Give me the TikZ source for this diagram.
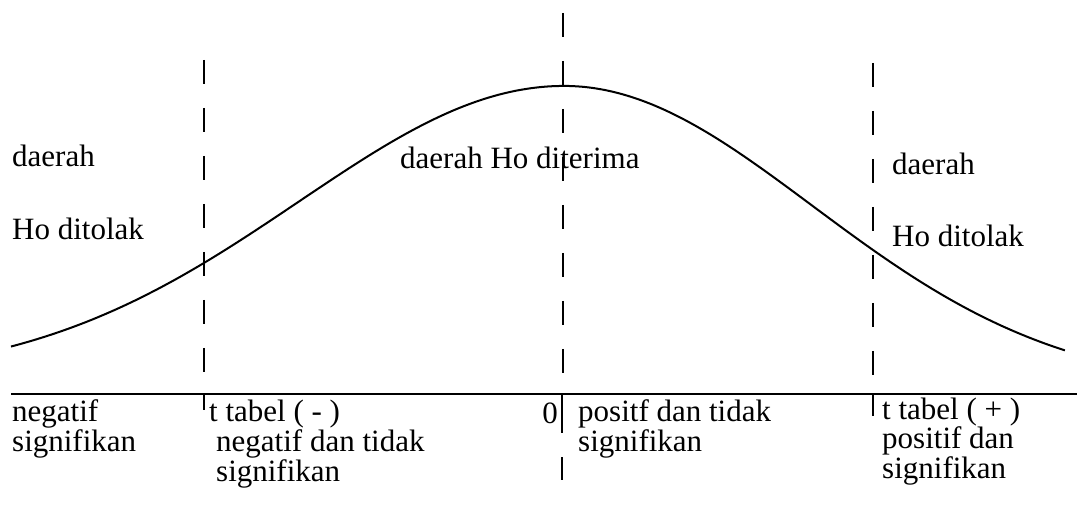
\documentclass[tikz,border=0pt]{standalone}
\usepackage{fontspec}
\setmainfont{Liberation Serif}
\begin{document}
\begin{tikzpicture}[x=1pt,y=-1pt,
  lbl/.style={anchor=base west,inner sep=0pt,font=\fontsize{31}{27.5}\selectfont,align=left},
  lblr/.style={anchor=base east,inner sep=0pt,font=\fontsize{31}{27.5}\selectfont},
  curve/.style={line width=2pt},
  dline/.style={line width=1.6pt,dash pattern=on 24pt off 24pt},
  tick/.style={line width=1.6pt},
  axis/.style={line width=2.2pt}]
\useasboundingbox (0,0) rectangle (1079,510);
% texts (multi-line nodes are placed by the baseline of their last line)
\node[lbl] (dL) at (12,167) {daerah};
\node[lbl] (hL) at (12,240) {Ho ditolak};
\node[lbl] (dC) at (400,169) {daerah Ho diterima};
\node[lbl] (dR) at (892,175) {daerah};
\node[lbl] (hR) at (892,247) {Ho ditolak};
\node[lbl] (nL) at (12,451) {negatif\\signifikan};
\node[lbl] (tm) at (209,421) {t tabel ( - )};
\node[lbl] (nm) at (216,481) {negatif dan tidak\\signifikan};
\node[lblr] (zero) at (558,424) {0};
\node[lbl] (pc) at (578,451) {positf dan tidak\\signifikan};
\node[lbl] (tp) at (882,478) {t tabel ( + )\\positif dan\\signifikan};
% coordinates
\coordinate (Lt) at (204,60);  \coordinate (Lb) at (204,373);
\coordinate (Ct) at (563,13);  \coordinate (Cb) at (563,373);
\coordinate (Rt) at (873,63);  \coordinate (Rb) at (873,376);
\coordinate (A1) at (11,394);  \coordinate (A2) at (1077,394);
\coordinate (Lk1) at (204,395); \coordinate (Lk2) at (204,410);
\coordinate (Ck1) at (562,395); \coordinate (Ck2) at (562,433);
\coordinate (Ck3) at (562,457); \coordinate (Ck4) at (562,480);
\coordinate (Rk1) at (873,395); \coordinate (Rk2) at (873,416);
% curve
\draw[curve] plot[domain=-5.53:0,samples=120,smooth] ({564+100*\x},{380-294*exp(-((\x)*(\x))/14.0717)})
  -- plot[domain=0.05:5.01,samples=120,smooth] ({564+100*\x},{390-304*exp(-((\x)*(\x))/12.3138)});
% dashed lines
\draw[dline] (Lt) -- (Lb);
\draw[dline] (Ct) -- (Cb);
\draw[dline] (Rt) -- (Rb);
% axis and ticks
\draw[axis] (A1) -- (A2);
\draw[tick] (Lk1) -- (Lk2);
\draw[tick] (Ck1) -- (Ck2);
\draw[tick] (Ck3) -- (Ck4);
\draw[tick] (Rk1) -- (Rk2);
\end{tikzpicture}
\end{document}
